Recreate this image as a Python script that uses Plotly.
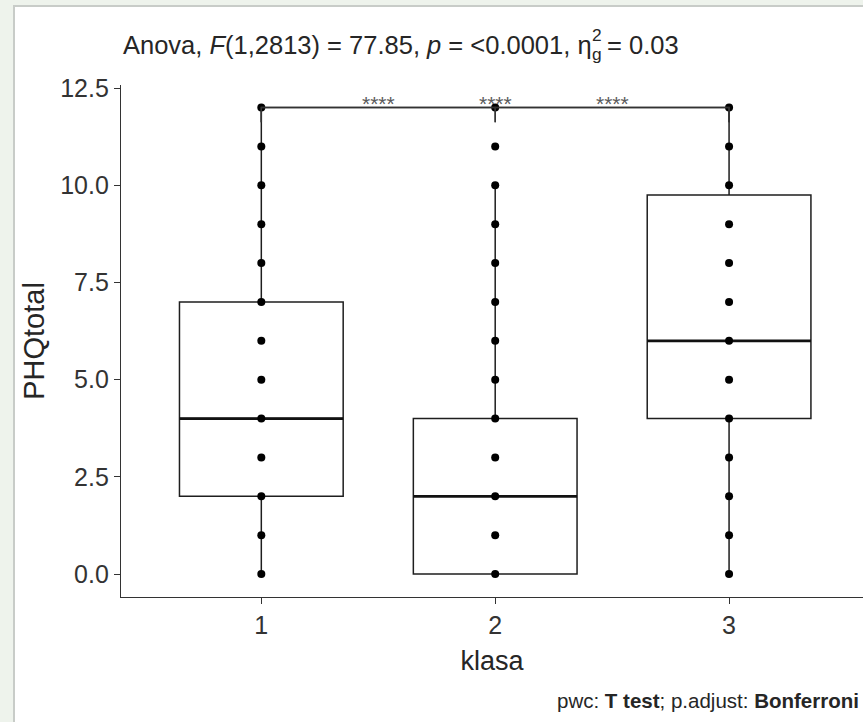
import plotly.graph_objects as go

# ---- data ----
groups = [1, 2, 3]
group_labels = ["1", "2", "3"]
q1 = [2.0, 0.0, 4.0]
median = [4.0, 2.0, 6.0]
q3 = [7.0, 4.0, 9.75]
lower_whisker = [0.0, 0.0, 0.0]
upper_whisker = [12.0, 10.0, 12.0]
# observed values (each group shows every integer score 0..12)
points_g1 = [0, 1, 2, 3, 4, 5, 6, 7, 8, 9, 10, 11, 12]
points_g2 = [0, 1, 2, 3, 4, 5, 6, 7, 8, 9, 10, 11, 12]
points_g3 = [0, 1, 2, 3, 4, 5, 6, 7, 8, 9, 10, 11, 12]
comparisons = [(1, 2), (1, 3), (2, 3)]
comparison_y = [12.0, 12.0, 12.0]
comparison_labels = ["****", "****", "****"]
y_ticks = [0.0, 2.5, 5.0, 7.5, 10.0, 12.5]

FONT = "Arial, 'Liberation Sans', sans-serif"
INK = "#262626"
BOX_W = 0.7
TIP = 0.38

W, H = 863, 722
L, R, T, B = 121, 0, 85, 125
PW, PH = W - L - R, H - T - B


def px_x(px):
    return (px - L) / PW


def px_y(py):
    return (H - B - py) / PH


fig = go.Figure()

fig.add_trace(go.Box(
    x=groups, q1=q1, median=median, q3=q3,
    lowerfence=lower_whisker, upperfence=upper_whisker,
    width=BOX_W, whiskerwidth=0, boxpoints=False,
    fillcolor="white", line=dict(color="#1e1e1e", width=1.5),
    showlegend=False, hoverinfo="skip",
))

# thicker median lines
for g, m in zip(groups, median):
    fig.add_trace(go.Scatter(
        x=[g - BOX_W / 2, g + BOX_W / 2], y=[m, m], mode="lines",
        line=dict(color="#111111", width=2.8), showlegend=False, hoverinfo="skip",
    ))

all_points = [points_g1, points_g2, points_g3]
px_, py_ = [], []
for g, pts in zip(groups, all_points):
    px_ += [g] * len(pts)
    py_ += pts
fig.add_trace(go.Scatter(
    x=px_, y=py_, mode="markers",
    marker=dict(color="black", size=8), showlegend=False, hoverinfo="skip",
))

# significance brackets
for (a, b), yv, lab in zip(comparisons, comparison_y, comparison_labels):
    fig.add_trace(go.Scatter(
        x=[a, a, b, b], y=[yv - TIP, yv, yv, yv - TIP], mode="lines",
        line=dict(color="#333333", width=1.4), showlegend=False, hoverinfo="skip",
    ))
    fig.add_annotation(
        x=(a + b) / 2, y=yv, text=lab, showarrow=False, xanchor="center",
        yanchor="middle", yshift=4, font=dict(family=FONT, size=21, color="#5a5a5a"),
    )

# background panel (white card with light frame)
fig.add_shape(
    type="rect", xref="paper", yref="paper",
    x0=px_x(14), x1=1.2, y0=-0.4, y1=px_y(6),
    fillcolor="white", line=dict(color="#c8ccc8", width=2), layer="below",
)

# title (eta with stacked sub/superscript)
TS = 25.5
TX0 = 121
part1 = "Anova, <i>F</i>(1,2813) = 77.85, <i>p</i> = &lt;0.0001, η"
part1_em = 18.374
TY = 45
fig.add_annotation(
    xref="paper", yref="paper", x=px_x(TX0), y=px_y(TY),
    xanchor="left", yanchor="middle", showarrow=False,
    text=part1, font=dict(family=FONT, size=TS, color=INK),
)
xs = TX0 + part1_em * TS
fig.add_annotation(
    xref="paper", yref="paper", x=px_x(xs), y=px_y(TY - 10),
    xanchor="left", yanchor="middle", showarrow=False,
    text="2", font=dict(family=FONT, size=TS * 0.68, color=INK),
)
fig.add_annotation(
    xref="paper", yref="paper", x=px_x(xs), y=px_y(TY + 9),
    xanchor="left", yanchor="middle", showarrow=False,
    text="g", font=dict(family=FONT, size=TS * 0.68, color=INK),
)
fig.add_annotation(
    xref="paper", yref="paper", x=px_x(xs + 0.62 * TS), y=px_y(TY),
    xanchor="left", yanchor="middle", showarrow=False,
    text="= 0.03", font=dict(family=FONT, size=TS, color=INK),
)

fig.add_annotation(
    xref="paper", yref="paper", x=px_x(861), y=px_y(700),
    xanchor="right", yanchor="middle", showarrow=False,
    text="pwc: <b>T test</b>; p.adjust: <b>Bonferroni</b>",
    font=dict(family=FONT, size=20.5, color=INK),
)

fig.update_xaxes(
    range=[0.4, 1 + (863 - 261) / 234], tickvals=groups, ticktext=group_labels,
    showline=True, linecolor="#333333", linewidth=1.4, mirror=False,
    ticks="outside", ticklen=6, tickcolor="#333333", tickwidth=1.4,
    showgrid=False, zeroline=False,
    tickfont=dict(family=FONT, size=25, color="#333333"),
    title=dict(text="klasa", font=dict(family=FONT, size=27, color=INK), standoff=12),
)
fig.update_yaxes(
    range=[-0.59, 12.58], tickvals=y_ticks, tickformat=".1f",
    showline=True, linecolor="#333333", linewidth=1.4,
    ticks="outside", ticklen=6, tickcolor="#333333", tickwidth=1.4,
    showgrid=False, zeroline=False,
    tickfont=dict(family=FONT, size=25, color="#333333"),
    title=dict(text="PHQtotal", font=dict(family=FONT, size=29, color=INK), standoff=6),
)

fig.update_layout(
    width=W, height=H, autosize=False,
    margin=dict(l=L, r=R, t=T, b=B, pad=0),
    paper_bgcolor="#eef3ec", plot_bgcolor="white",
    showlegend=False,
)

fig.write_html("out.html")
